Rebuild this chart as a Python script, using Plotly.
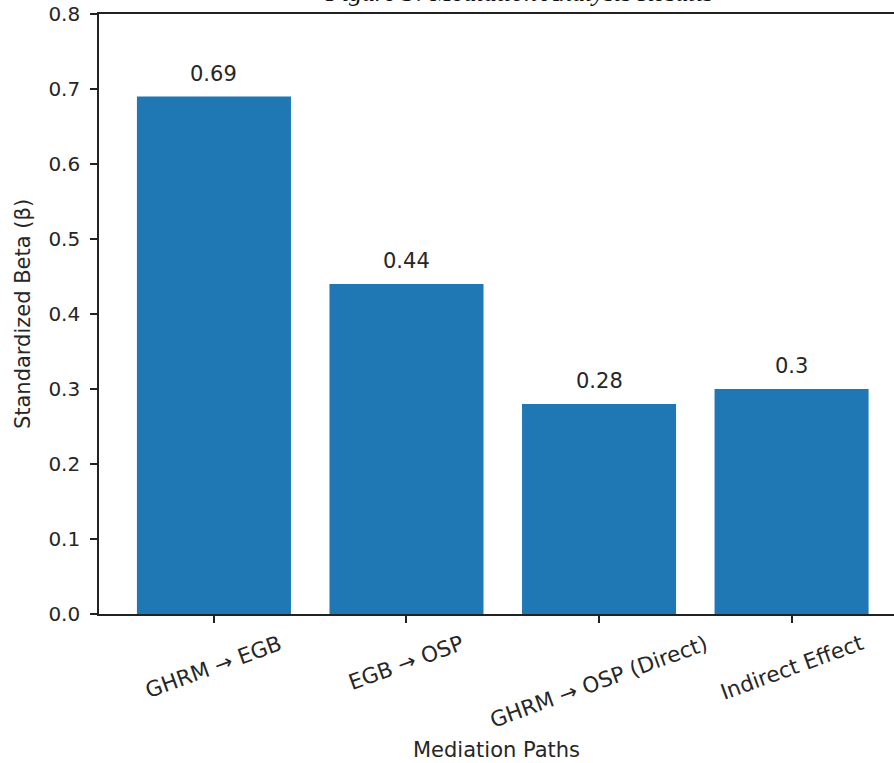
import plotly.graph_objects as go

categories = ["GHRM → EGB", "EGB → OSP", "GHRM → OSP (Direct)", "Indirect Effect"]
betas = [0.69, 0.44, 0.28, 0.30]
y_ticks = [0.0, 0.1, 0.2, 0.3, 0.4, 0.5, 0.6, 0.7, 0.8]
title_text = "Figure 3: Mediation Analysis Results"
x_title = "Mediation Paths"
y_title = "Standardized Beta (β)"

W, H = 894, 763
ML, MR, MT, MB = 99, 0, 14, 149
plot_w = W - ML - MR
plot_h = H - MT - MB

FONT = "DejaVu Sans"
FS = 21
TXT = "#262626"
AX = "#222222"

xpos = list(range(len(categories)))

fig = go.Figure()
fig.add_trace(go.Bar(
    x=xpos, y=betas,
    marker=dict(color="#1f77b4", line=dict(width=0)),
    width=0.8,
    hoverinfo="skip",
))

annotations = []
# value labels above bars
for i, v in enumerate(betas):
    annotations.append(dict(
        x=i, xref="x", y=v, yref="y",
        text=f"{v:g}", showarrow=False,
        xanchor="center", yanchor="middle", yshift=23,
        font=dict(family=FONT, size=FS, color=TXT),
    ))
# rotated category labels
for i, c in enumerate(categories):
    annotations.append(dict(
        x=i, xref="x", y=-(14 / plot_h), yref="paper",
        text=c, showarrow=False, textangle=-20,
        xanchor="center", yanchor="top",
        font=dict(family=FONT, size=21.5, color=TXT),
    ))
# title (partly cropped at top, as in reference)
annotations.append(dict(
    x=(519 - ML) / plot_w, xref="paper", y=1 + 22 / plot_h, yref="paper",
    text="<i>" + title_text + "</i>", showarrow=False,
    xanchor="center", yanchor="middle",
    font=dict(family="Liberation Serif", size=26, color="#111111"),
))
# x axis title
annotations.append(dict(
    x=0.5, xref="paper", y=-(136 / plot_h), yref="paper",
    text=x_title, showarrow=False, xanchor="center", yanchor="middle",
    font=dict(family=FONT, size=FS, color=TXT),
))

fig.update_layout(
    width=W, height=H,
    margin=dict(l=ML, r=MR, t=MT, b=MB, pad=0),
    paper_bgcolor="white", plot_bgcolor="white",
    showlegend=False,
    annotations=annotations,
    xaxis=dict(
        range=[-0.597, 3.532],
        tickmode="array", tickvals=xpos,
        showticklabels=False,
        ticks="outside", ticklen=7, tickwidth=1.6, tickcolor=AX,
        showline=True, linecolor=AX, linewidth=1.6, mirror=True,
        showgrid=False, zeroline=False,
    ),
    yaxis=dict(
        range=[0, 0.8],
        tickmode="array", tickvals=y_ticks,
        ticktext=[f"{v:.1f}" for v in y_ticks],
        ticks="outside", ticklen=7, tickwidth=1.6, tickcolor=AX,
        ticklabelstandoff=6,
        tickfont=dict(family=FONT, size=20, color=TXT),
        showline=True, linecolor=AX, linewidth=1.6, mirror=False,
        showgrid=False, zeroline=False,
        title=dict(text=y_title, font=dict(family=FONT, size=FS, color=TXT), standoff=12),
        automargin=False,
    ),
)

fig.write_html(
    "out.html",
    config={"displayModeBar": False},
    post_script="document.body.style.margin='0';document.body.style.overflow='hidden';",
)
